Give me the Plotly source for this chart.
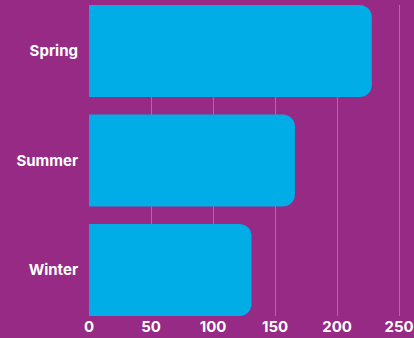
import plotly.graph_objects as go

# Seasonal totals
seasons = ["Spring", "Summer", "Winter"]
totals = [228, 166, 131]
tick_vals = [0, 50, 100, 150, 200, 250]

BG = "#962A85"
BAR = "#00ADE6"
GRID = "rgba(255,255,255,0.28)"
FONT = "Inter, 'Noto Sans', sans-serif"

fig = go.Figure(
    go.Bar(
        x=totals,
        y=seasons,
        orientation="h",
        marker=dict(color=BAR, line=dict(width=0)),
        hoverinfo="skip",
    )
)

fig.update_layout(
    width=414,
    height=338,
    margin=dict(l=89, r=0, t=5, b=22),
    paper_bgcolor=BG,
    plot_bgcolor=BG,
    bargap=0.16,
    barcornerradius=12,
    showlegend=False,
    font=dict(family=FONT, color="white", size=15),
)

fig.update_xaxes(
    range=[0, 262],
    tickvals=tick_vals,
    showgrid=True,
    gridcolor=GRID,
    gridwidth=1,
    zeroline=False,
    showline=False,
    ticks="",
    tickfont=dict(family=FONT, size=15, color="white", weight="bold"),
)

fig.update_yaxes(
    categoryorder="array",
    categoryarray=seasons[::-1],
    range=[-0.42, 2.42],
    showgrid=False,
    zeroline=False,
    showline=False,
    ticks="",
    ticklabelstandoff=10,
    tickfont=dict(family=FONT, size=15, color="white", weight="bold"),
)

fig.write_html("out.html")
